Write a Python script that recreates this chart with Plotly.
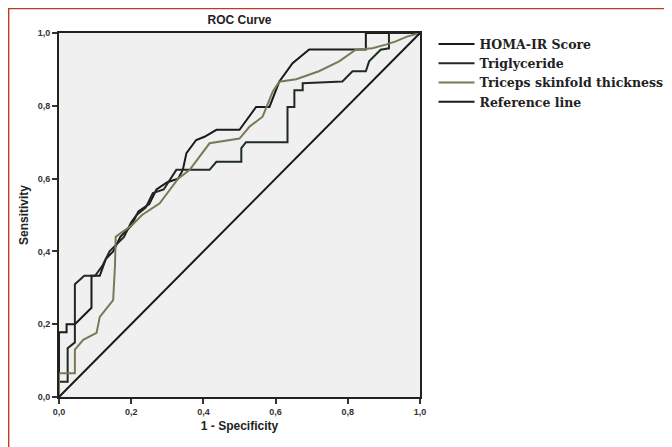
import plotly.graph_objects as go

# ---- data ----
homa_fpr = [0, 0, 0.021, 0.021, 0.044, 0.09, 0.09, 0.113, 0.13, 0.15, 0.17, 0.2, 0.22, 0.25, 0.27, 0.3, 0.33,
            0.343, 0.353, 0.38, 0.403, 0.436, 0.5, 0.546, 0.583, 0.61, 0.647, 0.693, 0.85, 0.85, 1.0]
homa_tpr = [0, 0.178, 0.178, 0.2, 0.2, 0.245, 0.333, 0.333, 0.38, 0.4, 0.44, 0.47, 0.51, 0.53, 0.57, 0.59, 0.6,
            0.624, 0.67, 0.706, 0.715, 0.734, 0.734, 0.797, 0.797, 0.866, 0.917, 0.955, 0.955, 1.0, 1.0]

trig_fpr = [0, 0, 0.024, 0.024, 0.044, 0.044, 0.07, 0.1, 0.12, 0.14, 0.16, 0.18, 0.2, 0.215, 0.24, 0.26, 0.29,
            0.325, 0.417, 0.436, 0.505, 0.505, 0.518, 0.633, 0.633, 0.652, 0.652, 0.675, 0.675, 0.785, 0.813,
            0.85, 0.859, 0.891, 0.914, 0.914, 1.0]
trig_tpr = [0, 0.042, 0.042, 0.134, 0.15, 0.31, 0.333, 0.333, 0.36, 0.4, 0.42, 0.44, 0.48, 0.5, 0.52, 0.56, 0.57,
            0.624, 0.624, 0.646, 0.646, 0.684, 0.7, 0.7, 0.797, 0.797, 0.843, 0.843, 0.862, 0.867, 0.895,
            0.895, 0.922, 0.954, 0.958, 1.0, 1.0]

tric_fpr = [0, 0, 0.012, 0.044, 0.044, 0.067, 0.104, 0.113, 0.15, 0.155, 0.157, 0.17, 0.2, 0.23, 0.279, 0.33,
            0.362, 0.403, 0.417, 0.5, 0.528, 0.564, 0.592, 0.61, 0.657, 0.72, 0.776, 0.822, 0.868, 0.905,
            0.933, 0.964, 1.0]
tric_tpr = [0, 0.065, 0.065, 0.065, 0.13, 0.157, 0.176, 0.22, 0.266, 0.36, 0.44, 0.45, 0.47, 0.5, 0.532, 0.6,
            0.624, 0.679, 0.697, 0.71, 0.743, 0.77, 0.839, 0.866, 0.873, 0.895, 0.922, 0.954, 0.958, 0.968,
            0.977, 0.99, 1.0]

ref_x = [0, 1]
ref_y = [0, 1]

tick_vals = [0, 0.2, 0.4, 0.6, 0.8, 1.0]
tick_text = ["0,0", "0,2", "0,4", "0,6", "0,8", "1,0"]

names = ["HOMA-IR Score", "Triglyceride", "Triceps skinfold thickness", "Reference line"]

fig = go.Figure()
fig.add_trace(go.Scatter(x=homa_fpr, y=homa_tpr, mode="lines", name=names[0],
                         line=dict(color="#1a1a1a", width=2)))
fig.add_trace(go.Scatter(x=trig_fpr, y=trig_tpr, mode="lines", name=names[1],
                         line=dict(color="#1f2a22", width=2)))
fig.add_trace(go.Scatter(x=tric_fpr, y=tric_tpr, mode="lines", name=names[2],
                         line=dict(color="#7a7858", width=2)))
fig.add_trace(go.Scatter(x=ref_x, y=ref_y, mode="lines", name=names[3],
                         line=dict(color="#1a1a1a", width=2)))

axis_common = dict(range=[0, 1], tickvals=tick_vals, ticktext=tick_text,
                   ticks="outside", ticklen=5, tickwidth=1.5, tickcolor="#333",
                   showline=True, linecolor="#222", linewidth=2, mirror=True,
                   showgrid=False, zeroline=False,
                   tickfont=dict(family="Arial, Liberation Sans", size=9, color="#333", weight="bold"))

L, T, PW, PH = 51, 25, 362, 364
W, H = 672, 447
fig.update_layout(
    width=W, height=H,
    margin=dict(l=L, r=W - L - PW, t=T, b=H - T - PH),
    paper_bgcolor="white", plot_bgcolor="#f0f0f0",
    title=dict(text="<b>ROC Curve</b>", x=(232 - L) / PW, xref="paper", xanchor="center",
               y=1 - 12 / H, yanchor="middle",
               font=dict(family="Arial, Liberation Sans", size=12, color="#222")),
    xaxis=dict(**axis_common,
               title=dict(text="<b>1 - Specificity</b>", standoff=6,
                          font=dict(family="Arial, Liberation Sans", size=12, color="#222"))),
    yaxis=dict(**axis_common,
               title=dict(text="<b>Sensitivity</b>", standoff=6,
                          font=dict(family="Arial, Liberation Sans", size=12, color="#222"))),
    showlegend=True,
    legend=dict(x=1.0346, y=1.01, xanchor="left", yanchor="top", bgcolor="rgba(0,0,0,0)",
                font=dict(family="DejaVu Serif", size=12.5, color="#222", weight="bold"),
                tracegroupgap=0, itemwidth=36),
    shapes=[dict(type="rect", xref="paper", yref="paper",
                 x0=(0.5 - L) / PW, x1=(W + 10 - L) / PW,
                 y0=(T + PH - H - 10) / PH, y1=(T + PH - 0.5) / PH,
                 line=dict(color="#c0392b", width=1.5), fillcolor="rgba(0,0,0,0)", layer="below")],
)

fig.write_html("out.html")
